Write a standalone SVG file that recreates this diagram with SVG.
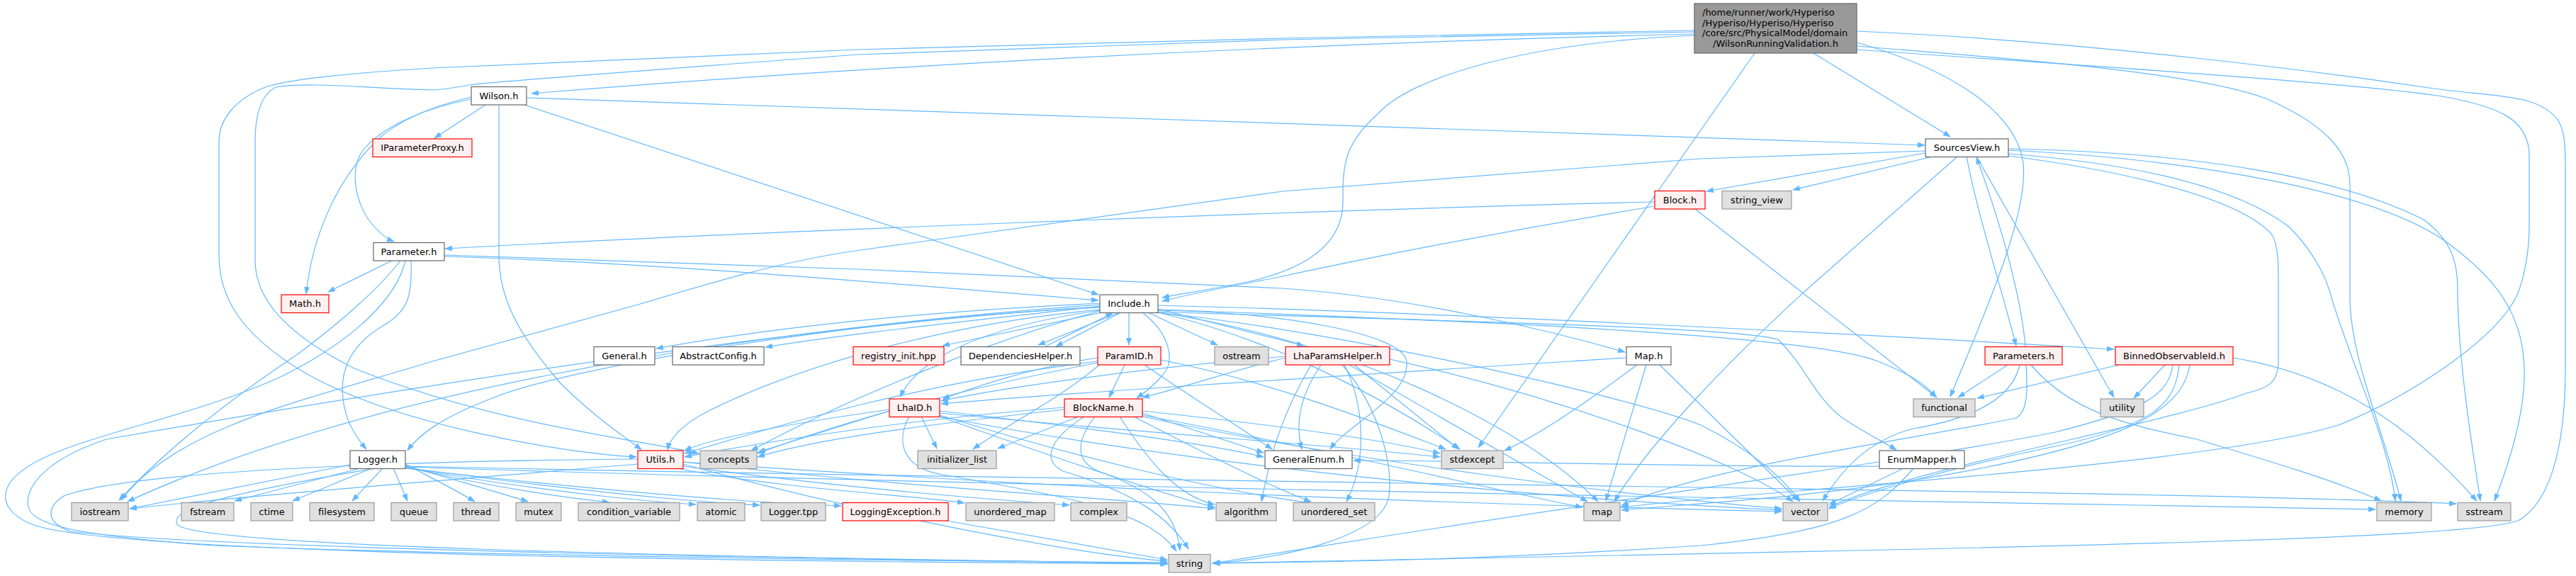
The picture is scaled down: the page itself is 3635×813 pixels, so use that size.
<svg xmlns="http://www.w3.org/2000/svg" width="3635" height="813" viewBox="0 0 3635 813">
<defs>
<marker id="a" markerWidth="11" markerHeight="8" refX="10" refY="4" orient="auto" markerUnits="userSpaceOnUse"><path d="M0,0 L11,4 L0,8 z" fill="#63b8ff"/></marker>
<style>
.e path{fill:none;stroke:#63b8ff;stroke-width:1.2;marker-end:url(#a)}
.nd rect{stroke-width:1.2}
.w rect{fill:#ffffff;stroke:#666666}
.r rect{fill:#fff0f0;stroke:#ff0000}
.g rect{fill:#e0e0e0;stroke:#999999}
.t rect{fill:#999999;stroke:#666666}
text{font-family:"DejaVu Sans","Liberation Sans",sans-serif;font-size:13px;fill:#000;text-anchor:middle}
</style>
</defs>
<rect width="3635" height="813" fill="#ffffff"/>
<g id="edges" class="e">
<path d="M2391,48 C1800,62 1200,95 750,132"/>
<path d="M2559,75 L2752,193"/>
<path d="M2391,50 C2150,60 1990,110 1945,160 C1900,200 1895,230 1895,270 L1895,285 C1895,340 1850,378 1760,398 C1700,410 1665,415 1640,420"/>
<path d="M2476,75 L2086,632"/>
<path d="M2620,60 C2760,100 2845,160 2855,230 C2862,300 2810,420 2752,560"/>
<path d="M2620,44 C2950,58 3300,105 3420,123 C3520,138 3580,130 3610,170 C3618,185 3620,200 3620,230 L3620,520 C3620,640 3595,712 3553,735 C3470,762 2900,772 1712,795"/>
<path d="M2620,65 C2800,80 3100,100 3200,140 C3290,180 3316,220 3316,260 L3316,420 C3316,500 3360,600 3388,707"/>
<path d="M2620,70 C2900,90 3300,115 3440,135 C3530,150 3569,170 3569,220 L3569,320 C3569,360 3560,400 3550,420 C3520,480 3400,560 3300,600 C3100,660 2500,690 2288,716"/>
<path d="M2391,43 L1810,54 L1210,70 L610,96 C500,103 420,110 377,122 C330,140 309,170 309,200 L309,360 C309,420 340,470 420,520 C550,600 800,640 898,645"/>
<path d="M2391,45 L1810,56 L1210,77 C900,100 700,115 662,120 C640,124 620,127 610,127 C520,125 440,115 389,123 C365,135 360,170 360,200 L360,367 C360,420 400,470 500,520 C700,600 900,620 986,640"/>
<path d="M685,148 L613,195"/>
<path d="M665,140 C610,150 540,175 510,215 C495,240 500,280 520,310 C535,330 548,338 556,341"/>
<path d="M665,137 C610,150 560,170 530,200 C470,260 440,340 432,415"/>
<path d="M704,148 L704,360 C704,420 730,470 790,540 C840,590 880,615 905,635"/>
<path d="M743,138 L2716,205"/>
<path d="M740,148 L1550,416"/>
<path d="M2717,216 L2408,270"/>
<path d="M2727,221 L2530,268"/>
<path d="M2775,221 C2790,300 2822,400 2845,488"/>
<path d="M2789,221 L2983,561"/>
<path d="M2834,210 C3100,215 3300,250 3420,310 C3460,340 3468,370 3468,410 L3468,420 C3470,520 3490,640 3500,707"/>
<path d="M2834,212 C3100,225 3350,270 3450,340 C3560,420 3600,500 3520,707"/>
<path d="M2834,217 C3000,230 3150,260 3230,320 C3270,360 3285,400 3290,420 C3320,520 3370,620 3380,707"/>
<path d="M2834,220 C2950,235 3150,270 3205,330 C3215,345 3215,370 3215,400 L3215,510 C3215,540 3200,548 3170,555 C3050,600 2700,660 2581,716"/>
<path d="M2762,221 L2548,410 C2450,500 2330,620 2278,708"/>
<path d="M2717,213 L2400,224 L1810,270 L1200,355 C1100,370 1000,400 900,430 L610,510 C450,560 250,600 171,706"/>
<path d="M2858,489 C2852,420 2825,320 2789,222"/>
<path d="M2833,515 L2763,561"/>
<path d="M2866,515 C2920,580 3000,600 3100,620 C3200,650 3300,680 3360,707"/>
<path d="M2850,515 C2840,560 2790,590 2700,605 C2640,620 2600,660 2572,707"/>
<path d="M2859,515 C2861,550 2862,580 2845,590 C2700,620 2400,660 2288,714"/>
<path d="M2335,285 C1800,298 1000,330 628,351"/>
<path d="M2335,291 C2100,330 1900,370 1810,390 C1750,402 1700,410 1640,425"/>
<path d="M2392,295 L2733,561"/>
<path d="M553,368 L463,412"/>
<path d="M627,362 C900,370 1200,395 1550,424"/>
<path d="M580,368 C582,420 575,440 540,460 C490,490 478,530 485,570 C490,600 505,620 517,634"/>
<path d="M565,368 C540,400 500,440 420,500 C300,580 220,650 168,706"/>
<path d="M572,368 C560,420 500,480 400,530 C250,600 60,620 15,680 C-5,710 20,730 45,740 C120,770 600,790 1648,796"/>
<path d="M627,360 L1210,380 L1810,407 C2000,420 2200,470 2293,497"/>
<path d="M1552,428 C1300,440 1100,460 926,492"/>
<path d="M1552,432 C1400,450 1200,470 1080,490"/>
<path d="M1555,441 L1330,488"/>
<path d="M1580,441 L1465,487"/>
<path d="M1593,441 L1593,487"/>
<path d="M1620,441 L1718,487"/>
<path d="M1634,436 L1840,488"/>
<path d="M1634,431 C2000,440 2600,470 2983,493"/>
<path d="M1612,441 C1650,470 1660,510 1640,530 C1625,548 1612,556 1604,562"/>
<path d="M1552,438 C1400,460 1300,500 1270,560"/>
<path d="M1634,438 C1800,440 1980,470 1985,510 C1990,560 1900,600 1877,634"/>
<path d="M1634,440 C1900,450 2470,460 2510,480 C2550,520 2560,560 2600,590 C2630,610 2660,625 2676,635"/>
<path d="M1634,437 C2000,450 2550,470 2650,510 C2700,530 2720,545 2732,561"/>
<path d="M1552,434 C1200,450 800,520 700,560 C620,590 590,615 575,636"/>
<path d="M1552,437 C1300,460 1100,530 1000,580 C960,600 945,620 942,635"/>
<path d="M1552,439 C1400,480 1200,560 1060,636"/>
<path d="M1552,430 C1000,470 500,560 180,708"/>
<path d="M1634,441 C1900,470 2300,560 2400,600 C2480,640 2520,680 2540,708"/>
<path d="M1634,441 C1900,480 2150,600 2255,708"/>
<path d="M1634,441 C1800,480 1950,560 2060,634"/>
<path d="M1552,433 C1100,460 500,560 150,620 C60,650 35,690 40,715 C45,740 100,755 300,770 C700,785 1300,792 1647,794"/>
<path d="M1587,515 L1565,561"/>
<path d="M1549,505 C1450,520 1380,545 1330,563"/>
<path d="M1551,515 C1500,560 1420,600 1373,634"/>
<path d="M1615,515 C1680,560 1760,610 1795,634"/>
<path d="M1638,508 C1800,540 1950,600 2040,634"/>
<path d="M1549,510 C1300,540 1100,600 966,640"/>
<path d="M1549,512 C1300,560 1150,610 1069,640"/>
<path d="M1522,588 L1408,633"/>
<path d="M1545,588 C1520,620 1515,650 1550,665 C1620,690 1660,720 1665,777"/>
<path d="M1530,588 C1480,620 1470,650 1500,665 C1600,695 1650,730 1677,775"/>
<path d="M1612,583 L1783,639"/>
<path d="M1612,580 C1800,600 1950,620 2032,640"/>
<path d="M1600,588 C1700,640 1800,690 1850,708"/>
<path d="M1612,586 C1900,640 2100,690 2233,716"/>
<path d="M1612,588 C1900,650 2300,700 2514,718"/>
<path d="M1580,588 C1620,650 1660,700 1714,712"/>
<path d="M1502,578 C1300,600 1150,620 1069,645"/>
<path d="M1502,575 C1300,590 1100,620 966,645"/>
<path d="M1300,588 L1322,633"/>
<path d="M1326,580 C1500,600 1700,625 1783,645"/>
<path d="M1283,588 C1265,620 1270,660 1330,670 C1500,700 1620,720 1660,778"/>
<path d="M1326,583 C1600,610 1900,630 2032,645"/>
<path d="M1255,580 L1070,638"/>
<path d="M1255,578 C1100,600 1000,620 966,636"/>
<path d="M1326,586 C1500,640 1700,690 1850,710"/>
<path d="M1326,588 C1700,660 2200,705 2514,720"/>
<path d="M1326,588 C1500,650 1650,700 1714,716"/>
<path d="M1864,515 C1840,550 1825,590 1837,634"/>
<path d="M1911,515 L2058,634"/>
<path d="M1904,515 L2240,708"/>
<path d="M1897,515 C1925,570 1930,650 1900,708"/>
<path d="M1894,515 C1950,580 1965,660 1960,700 C1950,760 1800,790 1710,795"/>
<path d="M1814,505 C1750,520 1660,550 1612,561"/>
<path d="M1814,503 C1600,520 1400,550 1328,566"/>
<path d="M1961,507 C2200,560 2450,650 2530,708"/>
<path d="M1850,515 C1800,600 1790,660 1780,708"/>
<path d="M2323,515 L2266,707"/>
<path d="M2310,515 C2250,560 2180,610 2123,636"/>
<path d="M2342,515 L2538,707"/>
<path d="M2295,505 C1900,530 1500,555 1328,570"/>
<path d="M3055,515 L3011,562"/>
<path d="M2990,515 L2790,562"/>
<path d="M3151,505 C3300,530 3400,600 3495,707"/>
<path d="M3066,515 C3060,560 3020,580 2900,610 C2700,650 2300,700 1712,795"/>
<path d="M3075,515 C3070,570 3040,600 2900,630 C2750,660 2620,700 2581,718"/>
<path d="M3090,515 C3080,580 3000,620 2800,660 C2600,700 2400,710 2288,720"/>
<path d="M2686,661 L2581,712"/>
<path d="M2700,661 C2650,720 2600,750 2400,770 C2100,790 1900,793 1712,795"/>
<path d="M2652,658 C2400,660 2100,650 1910,650"/>
<path d="M964,655 C1200,720 1500,780 1647,792"/>
<path d="M964,652 C1500,690 2000,710 2514,722"/>
<path d="M964,652 C1300,690 1600,705 1714,718"/>
<path d="M955,661 C1100,690 1300,700 1361,710"/>
<path d="M964,658 C1200,690 1400,705 1509,713"/>
<path d="M900,655 C600,680 350,700 183,718"/>
<path d="M900,648 C650,650 200,660 90,700 C60,720 70,740 100,750 C300,775 1200,790 1647,795"/>
<path d="M494,656 L183,718"/>
<path d="M508,661 L331,707"/>
<path d="M524,661 L413,707"/>
<path d="M540,661 L497,707"/>
<path d="M555,661 L575,707"/>
<path d="M572,655 C610,675 640,690 670,708"/>
<path d="M572,657 C650,680 720,700 745,708"/>
<path d="M572,659 C700,690 820,705 860,709"/>
<path d="M572,660 C800,700 950,710 982,712"/>
<path d="M572,660 C900,705 1050,712 1072,713"/>
<path d="M572,661 C1000,710 1150,712 1187,714"/>
<path d="M530,661 C300,700 240,720 250,740 C270,770 900,785 1647,795"/>
<path d="M572,658 C1500,680 3000,690 3466,711"/>
<path d="M572,659 C1500,690 3000,712 3352,719"/>
<path d="M1330,734 L1647,790"/>
<path d="M1475,489 L1570,442"/>
<path d="M1580,442 L1490,489"/>
</g>
<g id="n0" class="nd t"><rect x="2391" y="5" width="229" height="70"/><text x="2402" y="21.5" style="text-anchor:start">/home/runner/work/Hyperiso</text><text x="2402" y="36.5" style="text-anchor:start">/Hyperiso/Hyperiso/Hyperiso</text><text x="2402" y="51" style="text-anchor:start">/core/src/PhysicalModel/domain</text><text x="2505.5" y="66">/WilsonRunningValidation.h</text></g>
<g id="n1" class="nd w"><rect x="665" y="122.5" width="78" height="25.5"/><text x="704" y="139.8">Wilson.h</text></g>
<g id="n2" class="nd r"><rect x="526" y="196" width="140" height="25.5"/><text x="596" y="213.3">IParameterProxy.h</text></g>
<g id="n3" class="nd w"><rect x="2717" y="196" width="117" height="25.5"/><text x="2775.5" y="213.3">SourcesView.h</text></g>
<g id="n4" class="nd r"><rect x="2335" y="269.5" width="71" height="25.5"/><text x="2370.5" y="286.8">Block.h</text></g>
<g id="n5" class="nd g"><rect x="2430" y="269.5" width="98" height="25.5"/><text x="2479" y="286.8">string_view</text></g>
<g id="n6" class="nd w"><rect x="527" y="342.5" width="100" height="25.5"/><text x="577" y="359.8">Parameter.h</text></g>
<g id="n7" class="nd r"><rect x="397" y="416" width="67" height="25.5"/><text x="430.5" y="433.3">Math.h</text></g>
<g id="n8" class="nd w"><rect x="1552" y="416" width="82" height="25.5"/><text x="1593" y="433.3">Include.h</text></g>
<g id="n9" class="nd w"><rect x="838" y="489.5" width="86" height="25.5"/><text x="881" y="506.8">General.h</text></g>
<g id="n10" class="nd w"><rect x="949" y="489.5" width="129" height="25.5"/><text x="1013.5" y="506.8">AbstractConfig.h</text></g>
<g id="n11" class="nd r"><rect x="1204" y="489.5" width="128" height="25.5"/><text x="1268" y="506.8">registry_init.hpp</text></g>
<g id="n12" class="nd w"><rect x="1356" y="489.5" width="168" height="25.5"/><text x="1440" y="506.8">DependenciesHelper.h</text></g>
<g id="n13" class="nd r"><rect x="1549" y="489.5" width="89" height="25.5"/><text x="1593.5" y="506.8">ParamID.h</text></g>
<g id="n14" class="nd g"><rect x="1714" y="489.5" width="76" height="25.5"/><text x="1752" y="506.8">ostream</text></g>
<g id="n15" class="nd r"><rect x="1814" y="489.5" width="147" height="25.5"/><text x="1887.5" y="506.8">LhaParamsHelper.h</text></g>
<g id="n16" class="nd w"><rect x="2295" y="489.5" width="63" height="25.5"/><text x="2326.5" y="506.8">Map.h</text></g>
<g id="n17" class="nd r"><rect x="2801" y="489.5" width="109" height="25.5"/><text x="2855.5" y="506.8">Parameters.h</text></g>
<g id="n18" class="nd r"><rect x="2985" y="489.5" width="166" height="25.5"/><text x="3068" y="506.8">BinnedObservableId.h</text></g>
<g id="n19" class="nd r"><rect x="1255" y="563" width="71" height="25.5"/><text x="1290.5" y="580.3">LhaID.h</text></g>
<g id="n20" class="nd r"><rect x="1502" y="563" width="110" height="25.5"/><text x="1557" y="580.3">BlockName.h</text></g>
<g id="n21" class="nd g"><rect x="2700" y="563" width="87" height="25.5"/><text x="2743.5" y="580.3">functional</text></g>
<g id="n22" class="nd g"><rect x="2964" y="563" width="61" height="25.5"/><text x="2994.5" y="580.3">utility</text></g>
<g id="n23" class="nd w"><rect x="494" y="636" width="78" height="25.5"/><text x="533" y="653.3">Logger.h</text></g>
<g id="n24" class="nd r"><rect x="900" y="636" width="64" height="25.5"/><text x="932" y="653.3">Utils.h</text></g>
<g id="n25" class="nd g"><rect x="988" y="636" width="80" height="25.5"/><text x="1028" y="653.3">concepts</text></g>
<g id="n26" class="nd g"><rect x="1295" y="636" width="111" height="25.5"/><text x="1350.5" y="653.3">initializer_list</text></g>
<g id="n27" class="nd w"><rect x="1785" y="636" width="123" height="25.5"/><text x="1846.5" y="653.3">GeneralEnum.h</text></g>
<g id="n28" class="nd g"><rect x="2034" y="636" width="87" height="25.5"/><text x="2077.5" y="653.3">stdexcept</text></g>
<g id="n29" class="nd w"><rect x="2652" y="636" width="120" height="25.5"/><text x="2712" y="653.3">EnumMapper.h</text></g>
<g id="n30" class="nd g"><rect x="101" y="709.5" width="80" height="25.5"/><text x="141" y="726.8">iostream</text></g>
<g id="n31" class="nd g"><rect x="256" y="709.5" width="74" height="25.5"/><text x="293" y="726.8">fstream</text></g>
<g id="n32" class="nd g"><rect x="354" y="709.5" width="59" height="25.5"/><text x="383.5" y="726.8">ctime</text></g>
<g id="n33" class="nd g"><rect x="437" y="709.5" width="91" height="25.5"/><text x="482.5" y="726.8">filesystem</text></g>
<g id="n34" class="nd g"><rect x="552" y="709.5" width="64" height="25.5"/><text x="584" y="726.8">queue</text></g>
<g id="n35" class="nd g"><rect x="640" y="709.5" width="64" height="25.5"/><text x="672" y="726.8">thread</text></g>
<g id="n36" class="nd g"><rect x="728" y="709.5" width="64" height="25.5"/><text x="760" y="726.8">mutex</text></g>
<g id="n37" class="nd g"><rect x="816" y="709.5" width="143" height="25.5"/><text x="887.5" y="726.8">condition_variable</text></g>
<g id="n38" class="nd g"><rect x="984" y="709.5" width="67" height="25.5"/><text x="1017.5" y="726.8">atomic</text></g>
<g id="n39" class="nd g"><rect x="1074" y="709.5" width="91" height="25.5"/><text x="1119.5" y="726.8">Logger.tpp</text></g>
<g id="n40" class="nd r"><rect x="1189" y="709.5" width="149" height="25.5"/><text x="1263.5" y="726.8">LoggingException.h</text></g>
<g id="n41" class="nd g"><rect x="1363" y="709.5" width="125" height="25.5"/><text x="1425.5" y="726.8">unordered_map</text></g>
<g id="n42" class="nd g"><rect x="1511" y="709.5" width="79" height="25.5"/><text x="1550.5" y="726.8">complex</text></g>
<g id="n43" class="nd g"><rect x="1716" y="709.5" width="85" height="25.5"/><text x="1758.5" y="726.8">algorithm</text></g>
<g id="n44" class="nd g"><rect x="1825" y="709.5" width="115" height="25.5"/><text x="1882.5" y="726.8">unordered_set</text></g>
<g id="n45" class="nd g"><rect x="2235" y="709.5" width="51" height="25.5"/><text x="2260.5" y="726.8">map</text></g>
<g id="n46" class="nd g"><rect x="2516" y="709.5" width="63" height="25.5"/><text x="2547.5" y="726.8">vector</text></g>
<g id="n47" class="nd g"><rect x="3354" y="709.5" width="77" height="25.5"/><text x="3392.5" y="726.8">memory</text></g>
<g id="n48" class="nd g"><rect x="3468" y="709.5" width="75" height="25.5"/><text x="3505.5" y="726.8">sstream</text></g>
<g id="n49" class="nd g"><rect x="1649" y="782.5" width="59" height="25.5"/><text x="1678.5" y="799.8">string</text></g>
</svg>
